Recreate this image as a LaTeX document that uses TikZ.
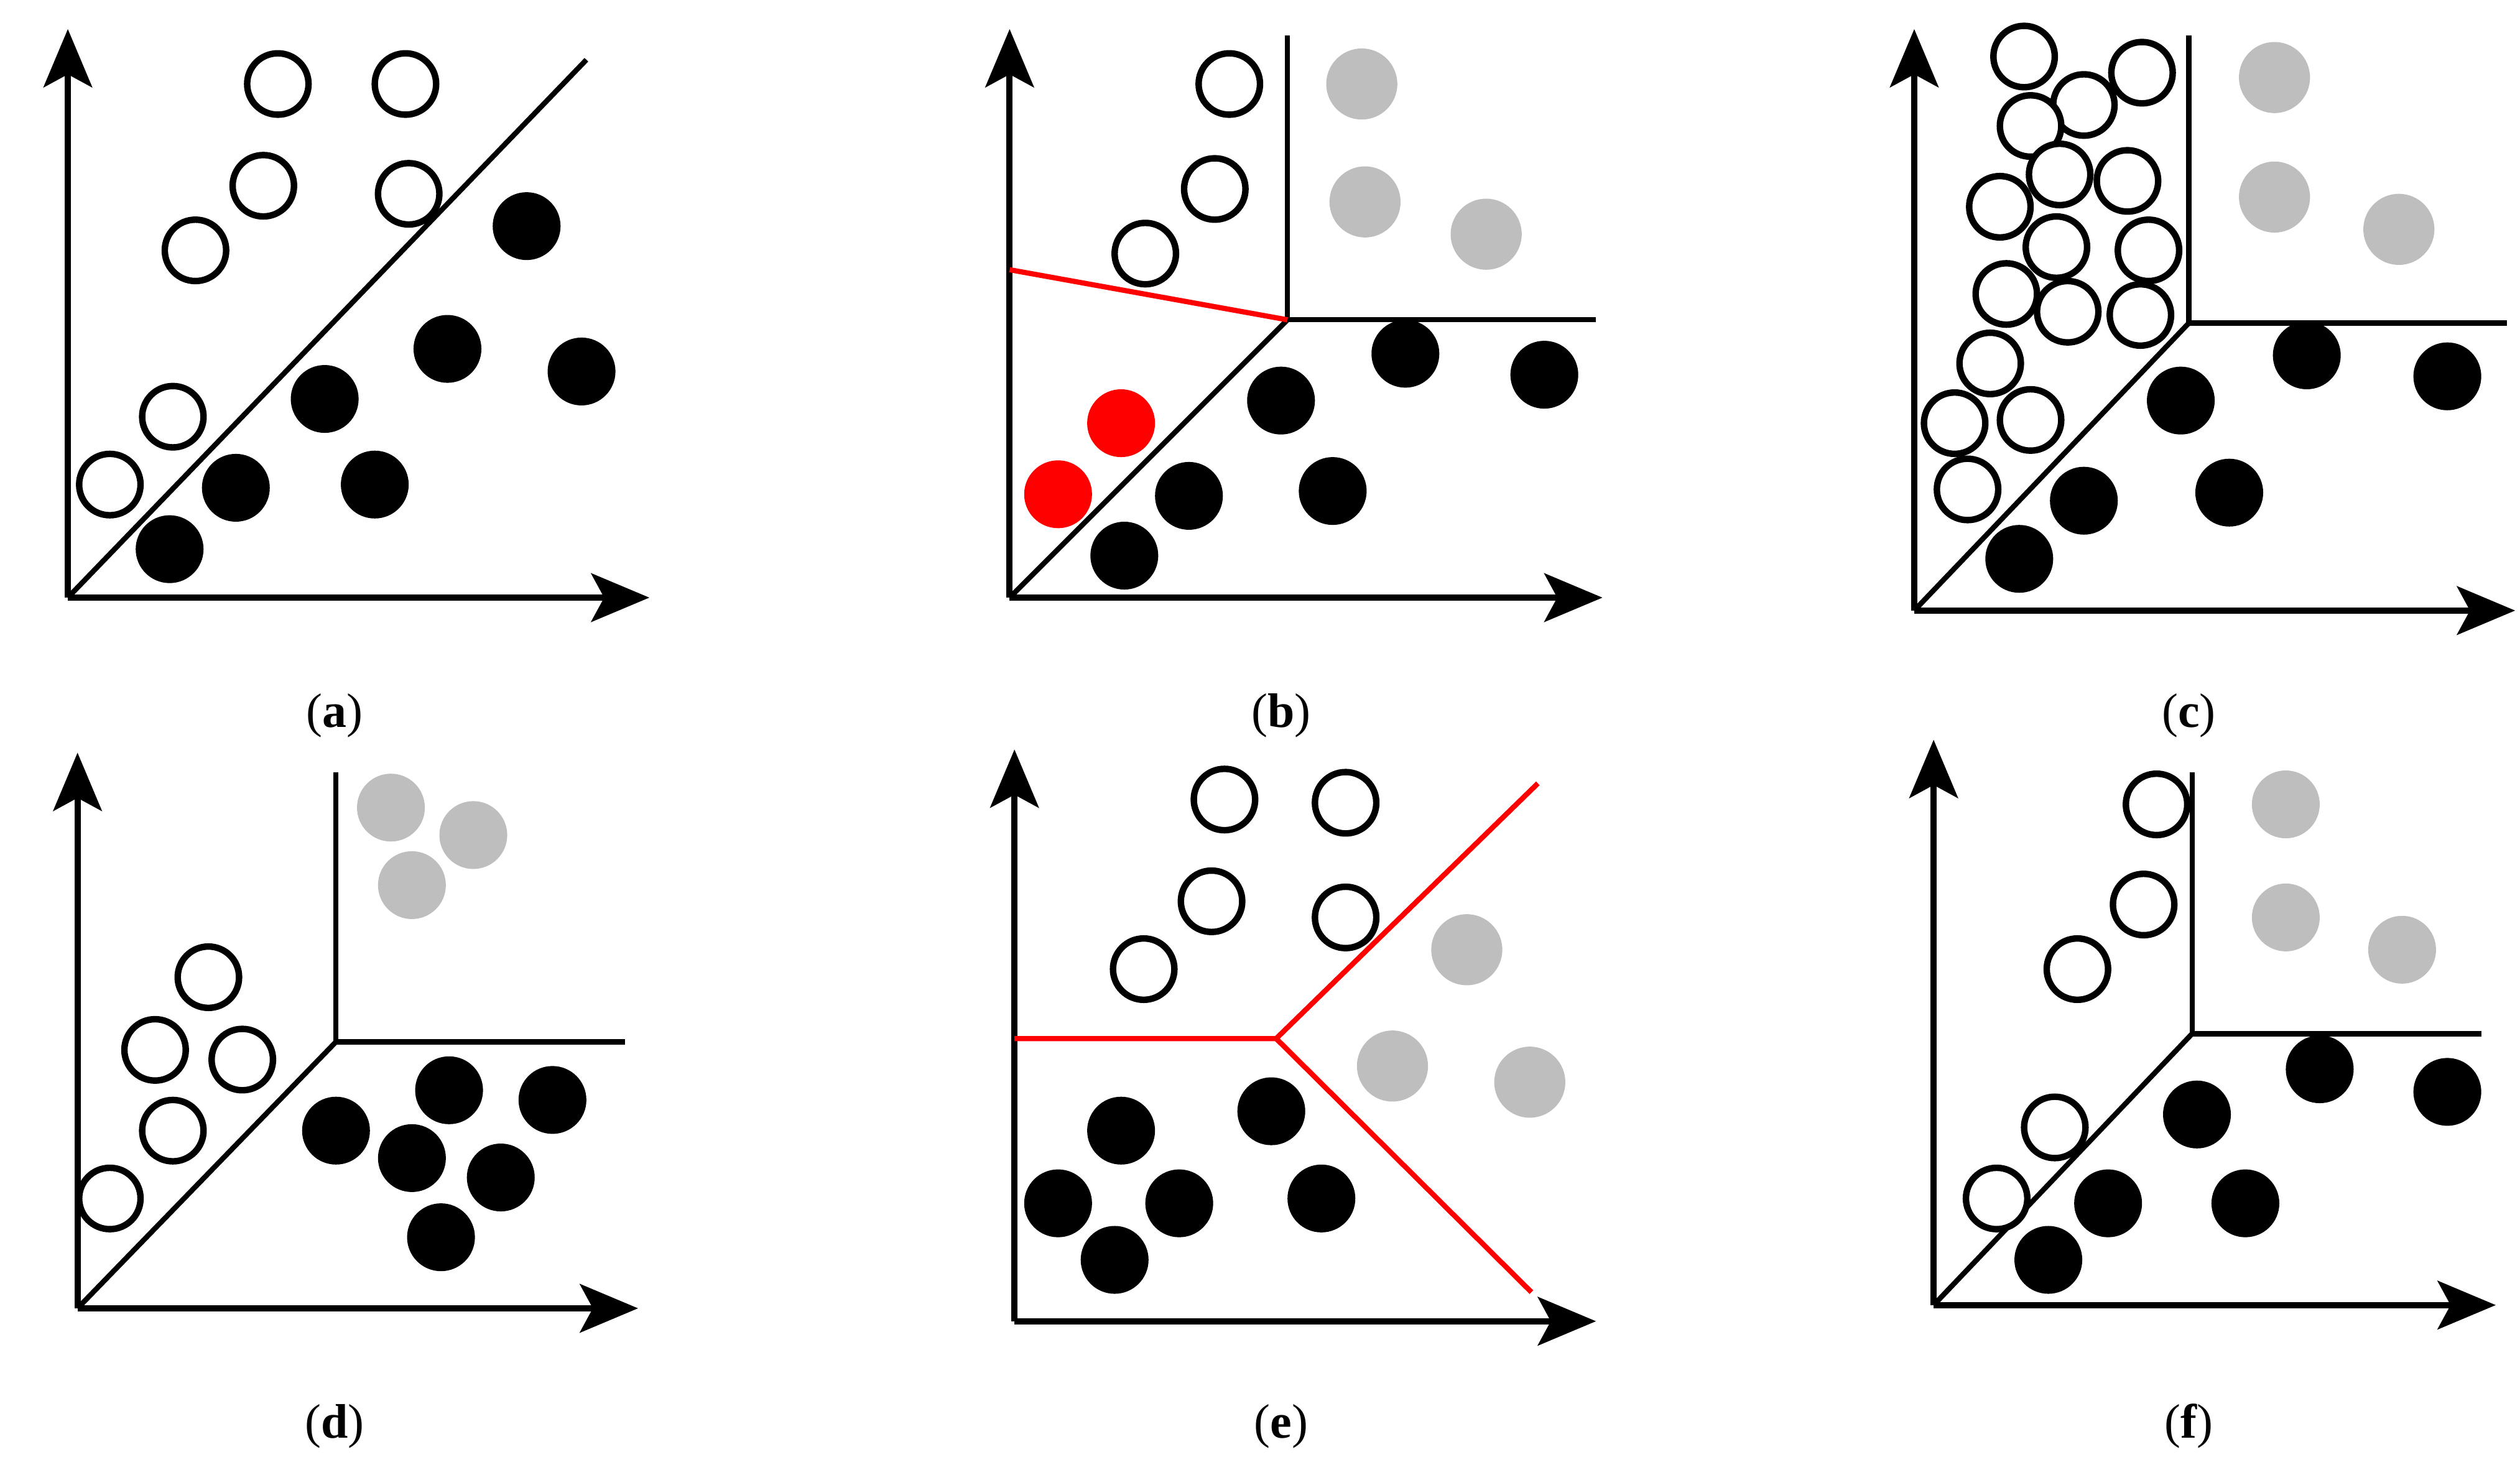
\documentclass[tikz,border=0pt]{standalone}
\usepackage{fontspec}
\setmainfont{Liberation Serif}
\usetikzlibrary{arrows.meta}
\definecolor{lgray}{RGB}{190,190,190}
\begin{document}
\begin{tikzpicture}[x=1pt,y=-1pt,
  ax/.style={line width=3.8pt,-{Stealth[length=36pt,width=30pt,inset=8pt]}},
  ln/.style={line width=3.2pt},
  rl/.style={line width=3.2pt,red},
  op/.style={draw=black,fill=white,line width=4pt},
  bk/.style={fill=black},
  gr/.style={fill=lgray},
  rd/.style={fill=red},
  lab/.style={font=\fontsize{30}{34}\selectfont}]
\useasboundingbox (0,0) rectangle (1560,913);
\def\R{19}
% (a)
\coordinate (oa) at (42,370);
\draw[ax] (oa) -- (42,18);
\draw[ax] (oa) -- (402,370);
\draw[ln] (oa) -- (363,37);
\foreach \p in {(172,52),(251,52),(163,115),(253,120),(121,155),(107,258),(68,300)} \fill[op] \p circle(\R);
\foreach \p in {(326,140),(277,216),(360,230),(201,247),(146,302),(232,300),(105,340)} \fill[bk] \p circle(21);
\node[lab] (la) at (207,443) {(\textbf{a})};
% (b)
\coordinate (ob) at (625,370); \coordinate (cb) at (797,198);
\draw[ax] (ob) -- (625,18);
\draw[ax] (ob) -- (992,370);
\draw[ln] (797,22) -- (cb) -- (988,198);
\draw[ln] (ob) -- (cb);
\draw[rl] (625,167) -- (cb);
\foreach \p in {(761,52),(752,117),(709,157)} \fill[op] \p circle(\R);
\foreach \p in {(843,52),(845,125),(920,145)} \fill[gr] \p circle(22);
\foreach \p in {(870,219),(956,232),(793,248),(736,307),(825,304),(696,344)} \fill[bk] \p circle(21);
\foreach \p in {(694,262),(655,306)} \fill[rd] \p circle(21);
\node[lab] (lb) at (793,443) {(\textbf{b})};
% (c)
\coordinate (oc) at (1185,378); \coordinate (cc) at (1355,200);
\draw[ax] (oc) -- (1185,18);
\draw[ax] (oc) -- (1557,378);
\draw[ln] (1355,22) -- (cc) -- (1552,200);
\draw[ln] (oc) -- (cc);
\foreach \p in {(1253,35),(1290,65),(1326,45),(1257,78),(1275,108),(1317,112),(1238,128),(1273,153),(1330,155),(1242,182),(1280,193),(1325,195),(1232,225),(1210,262),(1257,260),(1218,303)} \fill[op] \p circle(\R);
\foreach \p in {(1408,48),(1408,122),(1485,142)} \fill[gr] \p circle(22);
\foreach \p in {(1428,220),(1515,233),(1350,248),(1290,310),(1380,305),(1250,346)} \fill[bk] \p circle(21);
\node[lab] (lc) at (1355,443) {(\textbf{c})};
% (d)
\coordinate (od) at (48,810); \coordinate (cd) at (208,645);
\draw[ax] (od) -- (48,466);
\draw[ax] (od) -- (395,810);
\draw[ln] (208,478) -- (cd) -- (387,645);
\draw[ln] (od) -- (cd);
\foreach \p in {(242,500),(293,517),(255,548)} \fill[gr] \p circle(21);
\foreach \p in {(129,605),(96,650),(150,656),(107,700),(68,742)} \fill[op] \p circle(\R);
\foreach \p in {(278,675),(342,681),(208,700),(255,717),(310,729),(273,766)} \fill[bk] \p circle(21);
\node[lab] (ld) at (207,883) {(\textbf{d})};
% (e)
\coordinate (oe) at (628,818); \coordinate (ce) at (790,643);
\draw[ax] (oe) -- (628,464);
\draw[ax] (oe) -- (988,818);
\draw[rl] (628,643) -- (ce) -- (952,485);
\draw[rl] (ce) -- (948,800);
\foreach \p in {(758,495),(833,497),(750,558),(833,568),(708,600)} \fill[op] \p circle(\R);
\foreach \p in {(908,588),(862,660),(947,670)} \fill[gr] \p circle(22);
\foreach \p in {(694,700),(787,688),(655,745),(730,745),(818,742),(690,780)} \fill[bk] \p circle(21);
\node[lab] (le) at (793,883) {(\textbf{e})};
% (f)
\coordinate (of) at (1197,808); \coordinate (cf) at (1357,640);
\draw[ax] (of) -- (1197,458);
\draw[ax] (of) -- (1545,808);
\draw[ln] (1357,478) -- (cf) -- (1536,640);
\draw[ln] (of) -- (cf);
\foreach \p in {(1335,498),(1327,560),(1286,600),(1272,698),(1236,742)} \fill[op] \p circle(\R);
\foreach \p in {(1415,498),(1415,568),(1487,588)} \fill[gr] \p circle(21);
\foreach \p in {(1436,662),(1515,676),(1360,690),(1305,745),(1390,745),(1268,780)} \fill[bk] \p circle(21);
\node[lab] (lf) at (1355,883) {(\textbf{f})};
\end{tikzpicture}
\end{document}
